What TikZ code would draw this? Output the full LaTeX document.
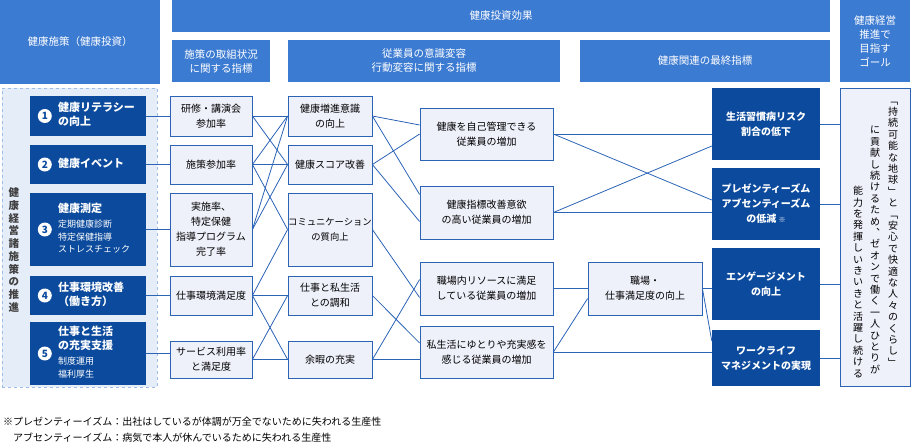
\documentclass[tikz,border=0pt]{standalone}
\usepackage{fontspec}
\setmainfont{Noto Sans CJK JP}
\usetikzlibrary{positioning}
\definecolor{hdrblue}{HTML}{3C7BD2}
\definecolor{darkblue}{HTML}{0B4A9C}
\definecolor{lightfill}{HTML}{EEF0FA}
\definecolor{linkblue}{HTML}{2B63B5}
\definecolor{panelfill}{HTML}{E5EDF9}
\tikzset{
  hdr/.style={fill=hdrblue,text=white,inner sep=0pt,align=center,font=\fontsize{10.5}{14}\selectfont},
  ibox/.style={draw=linkblue,thick,fill=lightfill,inner sep=0pt,align=center,font=\fontsize{10}{15}\selectfont},
  fbox/.style={fill=darkblue,text=white,inner sep=0pt,align=center,font=\bfseries\fontsize{10}{15}\selectfont},
  pbox/.style={fill=darkblue,text=white,inner sep=0pt,minimum width=116pt},
  ptxt/.style={anchor=west,text=white,align=left,inner sep=0pt},
  num/.style={circle,fill=white,text=darkblue,inner sep=0pt,minimum size=14pt,font=\bfseries\fontsize{10}{10}\selectfont},
  link/.style={draw=linkblue,line width=0.8pt}
}
\newcommand{\ptext}[1]{{\bfseries\fontsize{11}{14}\selectfont\begin{tabular}{@{}l@{}}#1\end{tabular}}}
\newcommand{\psmall}[1]{{\fontsize{9}{12.5}\selectfont\begin{tabular}{@{}l@{}}#1\end{tabular}}}
\begin{document}
\begin{tikzpicture}[x=1pt,y=-1pt]
\useasboundingbox (0,0) rectangle (912,445);
% headers
\node[hdr,minimum width=160pt,minimum height=84pt] (hP) at (80,42) {健康施策（健康投資）};
\node[hdr,minimum width=658pt,minimum height=32pt] (hM) at (501,16) {健康投資効果};
\node[hdr,minimum width=98pt,minimum height=42pt] (h1) at (221,61) {施策の取組状況\\に関する指標};
\node[hdr,minimum width=272pt,minimum height=42pt] (h2) at (424,61) {従業員の意識変容\\行動変容に関する指標};
\node[hdr,minimum width=250pt,minimum height=42pt] (h3) at (705,61) {健康関連の最終指標};
\node[hdr,minimum width=70pt,minimum height=82pt] (hG) at (875,41) {健康経営\\推進で\\目指す\\ゴール};
% left panel
\node[draw=hdrblue!50,dashed,fill=panelfill,minimum width=155pt,minimum height=299pt] (panel) at (79.5,237.5) {};
\node[align=center,inner sep=0pt,font=\bfseries\fontsize{10.5}{12.7}\selectfont,text=black!75] (vt) at (14,250)
  {健\\康\\経\\営\\諸\\施\\策\\の\\推\\進};
\node[pbox,minimum height=40pt] (P1) at (88,116) {};
\node[pbox,minimum height=39pt] (P2) at (88,164.5) {};
\node[pbox,minimum height=73pt] (P3) at (88,229.5) {};
\node[pbox,minimum height=39pt] (P4) at (88,295.5) {};
\node[pbox,minimum height=63pt] (P5) at (88,353.5) {};
\foreach \i in {1,...,5} \node[num] (n\i) at ([xshift=15pt]P\i.west) {\i};
\node[ptxt] (t1) at (58,116) {\ptext{健康リテラシー\\の向上}};
\node[ptxt] (t2) at (58,164.5) {\ptext{健康イベント}};
\node[ptxt] (t3) at (58,229.5) {\ptext{健康測定}\\[1pt]\psmall{定期健康診断\\特定保健指導\\ストレスチェック}};
\node[ptxt] (t4) at (58,295.5) {\ptext{仕事環境改善\\（働き方）}};
\node[ptxt] (t5) at (58,353.5) {\ptext{仕事と生活\\の充実支援}\\[1pt]\psmall{制度運用\\福利厚生}};
% indicators
\node[ibox,minimum width=82pt,minimum height=40pt] (A1) at (211,116) {研修・講演会\\参加率};
\node[ibox,minimum width=82pt,minimum height=39pt] (A2) at (211,164.5) {施策参加率};
\node[ibox,minimum width=82pt,minimum height=73pt] (A3) at (211,229.5) {実施率、\\特定保健\\指導プログラム\\完了率};
\node[ibox,minimum width=82pt,minimum height=39pt] (A4) at (211,295.5) {仕事環境満足度};
\node[ibox,minimum width=82pt,minimum height=37pt] (A5) at (211,359.5) {サービス利用率\\と満足度};
\node[ibox,minimum width=84pt,minimum height=40pt] (B1) at (330,116) {健康増進意識\\の向上};
\node[ibox,minimum width=84pt,minimum height=39pt] (B2) at (330,164.5) {健康スコア改善};
\node[ibox,minimum width=84pt,minimum height=73pt,font=\fontsize{9.3}{15}\selectfont] (B3) at (330,229.5) {コミュニケーション\\の質向上};
\node[ibox,minimum width=84pt,minimum height=39pt] (B4) at (330,295.5) {仕事と私生活\\との調和};
\node[ibox,minimum width=84pt,minimum height=37pt] (B5) at (330,359.5) {余暇の充実};
\node[ibox,minimum width=133pt,minimum height=52pt] (C1) at (486.5,134) {健康を自己管理できる\\従業員の増加};
\node[ibox,minimum width=133pt,minimum height=53pt] (C2) at (486.5,212.5) {健康指標改善意欲\\の高い従業員の増加};
\node[ibox,minimum width=133pt,minimum height=53pt] (C3) at (486.5,288.5) {職場内リソースに満足\\している従業員の増加};
\node[ibox,minimum width=133pt,minimum height=52pt] (C4) at (486.5,352) {私生活にゆとりや充実感を\\感じる従業員の増加};
\node[ibox,minimum width=114pt,minimum height=53pt] (D1) at (645,288.5) {職場・\\仕事満足度の向上};
\node[fbox,minimum width=108pt,minimum height=72pt] (E1) at (766,124) {生活習慣病リスク\\割合の低下};
\node[fbox,minimum width=108pt,minimum height=72pt] (E2) at (766,204) {プレゼンティーズム\\アブセンティーズム\\の低減 {\fontsize{7}{7}\selectfont ※}};
\node[fbox,minimum width=108pt,minimum height=72pt] (E3) at (766,284) {エンゲージメント\\の向上};
\node[fbox,minimum width=108pt,minimum height=56pt] (E4) at (766,358) {ワークライフ\\マネジメントの実現};
% goal
\node[draw=linkblue,thick,fill=lightfill,minimum width=70pt,minimum height=298pt] (G) at (875,237) {};
\tikzset{vcol/.style={align=center,inner sep=0pt,font=\fontsize{10}{11.4}\selectfont}}
\node[vcol] (g1) at (893,234) {﹁\\持\\続\\可\\能\\な\\地\\球\\﹂\\と\\﹁\\安\\心\\で\\快\\適\\な\\人\\々\\の\\く\\ら\\し\\﹂};
\node[vcol] (g2) at (875,250) {に\\貢\\献\\し\\続\\け\\る\\た\\め\\︑\\ゼ\\オ\\ン\\で\\働\\く\\一\\人\\ひ\\と\\り\\が};
\node[vcol] (g3) at (858,282) {能\\力\\を\\発\\揮\\し\\い\\き\\い\\き\\と\\活\\躍\\し\\続\\け\\る};
% connectors
\foreach \i in {1,...,5} \draw[link] (P\i.east) -- (A\i.west |- P\i.east);
\foreach \a/\b in {A1/B1,A1/B2,A2/B1,A2/B2,A2/B3,A3/B1,A3/B2,A4/B3,A4/B4,A4/B5,A5/B4,A5/B5}
  \draw[link] (\a.east) -- (\b.west);
\draw[link] (B1.east) -- ([yshift=9pt]C1.west);
\draw[link] (B1.east) -- ([yshift=18pt]C2.west);
\draw[link] (B2.east) -- (C1.west);
\draw[link] (B2.east) -- ([yshift=-9pt]C2.west);
\draw[link] (B3.east) -- ([yshift=-9pt]C3.west);
\draw[link] (B4.east) -- ([yshift=9pt]C4.west);
\draw[link] (B5.east) -- ([yshift=9pt]C3.west);
\draw[link] (B5.east) -- (C4.west |- B5.east);
\draw[link] (C1.east) -- (E1.west |- C1.east);
\draw[link] (C1.east) -- ([yshift=4pt]E2.west);
\draw[link] (C2.east) -- ([yshift=-22pt]E1.west);
\draw[link] (C2.east) -- (E2.west |- C2.east);
\draw[link] (C3.east) -- (D1.west |- C3.east);
\draw[link] (C4.east) -- ([yshift=-10pt]D1.west);
\draw[link] (C4.east) -- (E4.west |- C4.east);
\draw[link] (D1.east) -- (E3.west |- D1.east);
\draw[link] (D1.east) -- ([yshift=17pt]E4.west);
\foreach \i in {1,...,4} \draw[link] (E\i.east) -- (G.west |- E\i.east);
% footnote
\node[anchor=west,inner sep=0pt,align=left,font=\fontsize{10}{16}\selectfont] (note) at (3,430)
  {※プレゼンティーイズム：出社はしているが体調が万全でないために失われる生産性\\
  \phantom{※}アブセンティーイズム：病気で本人が休んでいるために失われる生産性};
\end{tikzpicture}
\end{document}
